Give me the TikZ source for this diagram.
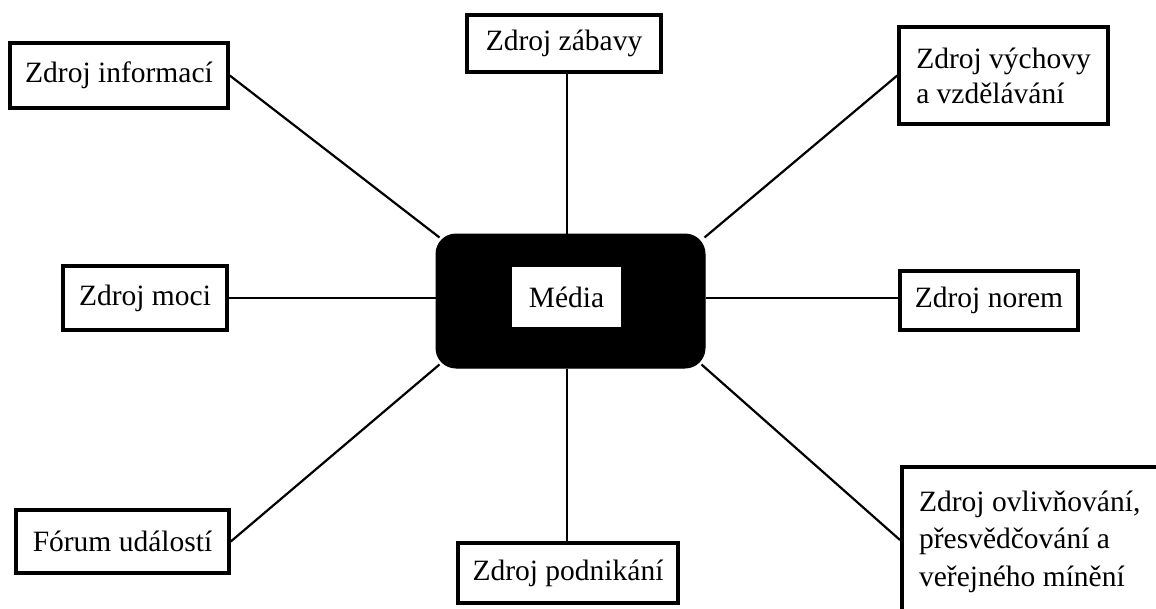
\documentclass[tikz,border=0pt]{standalone}
\usepackage{fontspec}
\setmainfont{Liberation Serif}
\begin{document}
\begin{tikzpicture}[x=1pt,y=-1pt,
  box/.style={draw=black,line width=3.5pt,fill=white,inner sep=0pt,align=left,
    font=\fontsize{29.5}{35}\selectfont},
  link/.style={draw=black,line width=2.2pt}]
\useasboundingbox (0,0) rectangle (1156,608);
\clip (0,0) rectangle (1156,608);
\fill[white] (0,0) rectangle (1156,608);
% nodes
\node[box,minimum width=218,minimum height=65] (info) at (119,75.5) {Zdroj informací};
\node[box,minimum width=194,minimum height=57] (zab) at (564,43.5) {Zdroj zábavy};
\node[box,minimum width=209,minimum height=97] (vych) at (1003.5,75.5) {Zdroj výchovy\\a vzdělávání};
\node[box,minimum width=164,minimum height=64] (moci) at (145,298) {Zdroj moci};
\node[box,minimum width=178,minimum height=59] (norem) at (989,300.5) {Zdroj norem};
\node[box,minimum width=213,minimum height=63] (forum) at (122.5,541.5) {Fórum událostí};
\node[box,minimum width=256,minimum height=150,anchor=north west,
  font=\fontsize{29.5}{37.5}\selectfont] (ovl) at (900,465)
  {Zdroj ovlivňování,\\přesvědčování a\\veřejného mínění};
\node[box,minimum width=220,minimum height=60] (podn) at (568,573) {Zdroj podnikání};
\node[fill=black,draw=black,line width=1pt,rounded corners=20pt,inner sep=0pt,
  minimum width=269,minimum height=134] (media) at (570.5,301) {};
\node[fill=white,inner sep=0pt,minimum width=109,minimum height=60,
  font=\fontsize{29.5}{35}\selectfont] (mediain) at (566.5,297) {Média};
% connectors
\draw[link] (info.east) -- ([shift={(4,4)}]media.north west);
\draw[link] (vych.west) -- ([shift={(-1,4)}]media.north east);
\draw[link] (forum.east) -- ([shift={(4,-4)}]media.south west);
\draw[link] (ovl.west |- 0,540) -- ([shift={(-4,-4)}]media.south east);
\draw[link] (moci.east) -- (moci.east -| media.west);
\draw[link] (norem.west |- 0,298) -- (media.east |- 0,298);
\draw[link] (567,0 |- zab.south) -- (567,0 |- media.north);
\draw[link] (567,0 |- podn.north) -- (567,0 |- media.south);
\end{tikzpicture}
\end{document}
